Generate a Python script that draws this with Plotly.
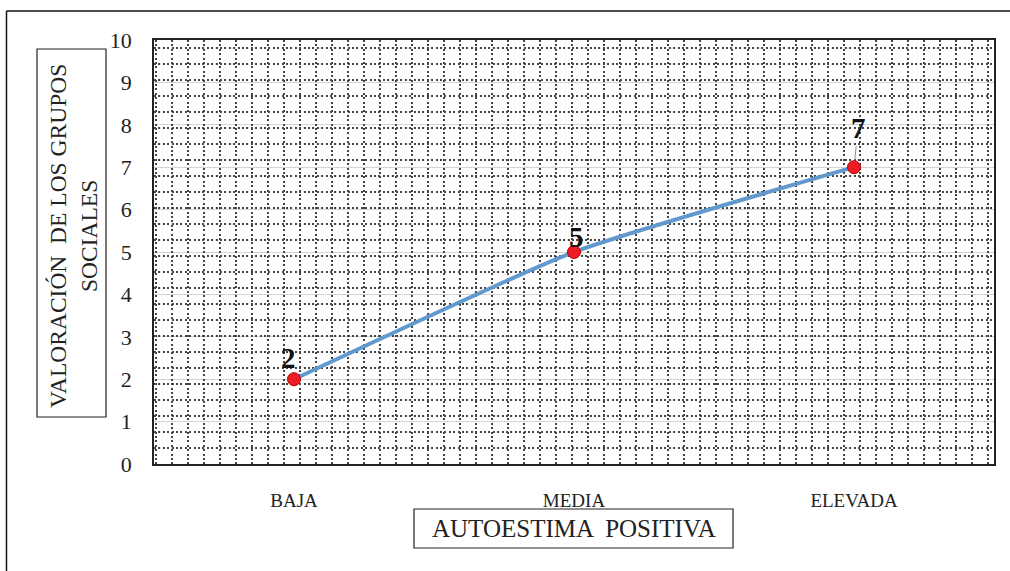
import plotly.graph_objects as go

categories = ["BAJA", "MEDIA", "ELEVADA"]
values = [2, 5, 7]
label_dx = [-6, 2, 4]
label_dy = [-21, -15, -39]
y_ticks = list(range(0, 11))

W, H = 1010, 571
PL, PR, PT, PB = 154, 994, 40, 464  # plot area in pixels
CELL = 16  # dotted pattern cell size (px)


def px(x):
    return (x - PL) / (PR - PL)


def py(y):
    return (PB - y) / (PB - PT)


FONT = "Liberation Serif, Times New Roman, serif"

fig = go.Figure()

fig.add_trace(go.Scatter(
    x=categories, y=values, mode="lines+markers",
    line=dict(color="#6199cf", width=4, shape="spline", smoothing=0.5),
    marker=dict(color="#ee1c25", size=13, line=dict(color="#c00000", width=1)),
    hoverinfo="x+y", showlegend=False, xaxis="x", yaxis="y",
))
# empty trace to carry the dotted pattern axes
fig.add_trace(go.Scatter(x=[], y=[], xaxis="x2", yaxis="y2", showlegend=False, hoverinfo="skip"))

for c, v, dx, dy in zip(categories, values, label_dx, label_dy):
    fig.add_annotation(
        x=c, y=v, xref="x", yref="y", text=f"<b>{v}</b>",
        showarrow=True, arrowhead=0, arrowwidth=1, arrowcolor="#8c8c8c",
        ax=dx, ay=dy, standoff=7,
        font=dict(family=FONT, size=29, color="#111"),
    )

plot_w = PR - PL
plot_h = PB - PT
off_x = 17.7

fig.update_layout(
    width=W, height=H,
    margin=dict(l=PL, r=W - PR, t=PT, b=H - PB, pad=0),
    paper_bgcolor="white", plot_bgcolor="white",
    font=dict(family=FONT, color="#222"),
    xaxis=dict(
        type="category", categoryorder="array", categoryarray=categories,
        range=[-0.5, 2.5], showgrid=False, zeroline=False,
        showline=True, linecolor="#222", linewidth=1.5, mirror=True,
        ticks="", ticklabelstandoff=18,
        tickfont=dict(family=FONT, size=19, color="#222"),
    ),
    yaxis=dict(
        range=[0, 10], tickvals=y_ticks, showgrid=True, gridcolor="#d4d4d4", gridwidth=1,
        zeroline=False, showline=True, linecolor="#222", linewidth=1.5, mirror=True,
        ticks="", ticklabelstandoff=16,
        tickfont=dict(family=FONT, size=22, color="#222"),
    ),
    xaxis2=dict(
        overlaying="x", anchor="y", range=[-off_x / CELL, (plot_w - off_x) / CELL],
        dtick=1, tick0=0, showgrid=True, gridcolor="#444444", gridwidth=1.6, griddash="2px,2.4px",
        showticklabels=False, zeroline=False, showline=False, ticks="",
    ),
    yaxis2=dict(
        overlaying="y", anchor="x", range=[0, plot_h / CELL],
        dtick=1, tick0=0, showgrid=True, gridcolor="#444444", gridwidth=1.6, griddash="2px,2.4px",
        showticklabels=False, zeroline=False, showline=False, ticks="",
    ),
    hovermode="closest",
)

shapes = [
    # outer chart border (top and left visible)
    dict(type="line", xref="paper", yref="paper", x0=px(6.5), x1=px(W), y0=py(11), y1=py(11),
         line=dict(color="#111", width=1.5)),
    dict(type="line", xref="paper", yref="paper", x0=px(6.5), x1=px(6.5), y0=py(11), y1=py(H),
         line=dict(color="#111", width=1.5)),
    # axis title boxes
    dict(type="rect", xref="paper", yref="paper", x0=px(37), x1=px(106), y0=py(417), y1=py(49),
         line=dict(color="#222", width=1.2)),
    dict(type="rect", xref="paper", yref="paper", x0=px(414), x1=px(733), y0=py(548), y1=py(509),
         line=dict(color="#222", width=1.2)),
]
fig.update_layout(shapes=shapes)

fig.add_annotation(
    x=px(73), y=py(236), xref="paper", yref="paper", showarrow=False, textangle=-90,
    text="VALORACIÓN  DE LOS GRUPOS<br>SOCIALES",
    font=dict(family=FONT, size=23.5, color="#222"),
    xanchor="center", yanchor="middle",
)
fig.add_annotation(
    x=px(574), y=py(528), xref="paper", yref="paper", showarrow=False,
    text="AUTOESTIMA  POSITIVA",
    font=dict(family=FONT, size=25, color="#222"),
    xanchor="center", yanchor="middle",
)

fig.write_html(
    "out.html",
    config={"displayModeBar": False},
    post_script="document.body.style.margin='0';document.body.style.overflow='hidden';",
)
